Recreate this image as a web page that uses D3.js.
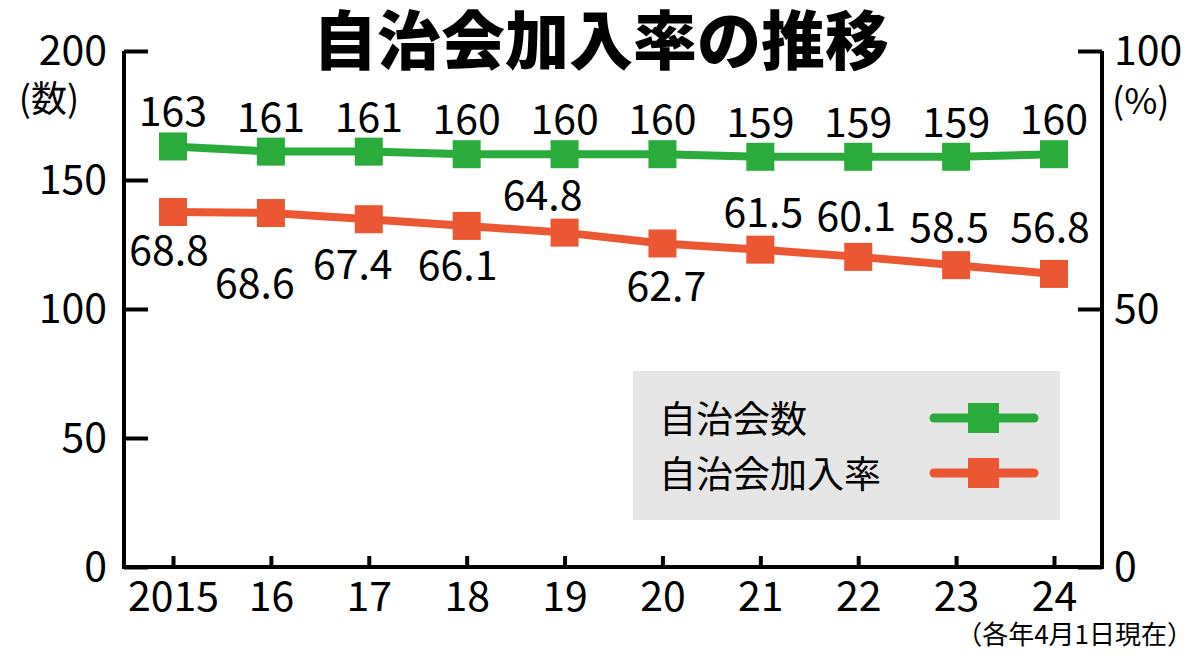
<!DOCTYPE html>
<html>
<head>
<meta charset="utf-8">
<script src="https://cdn.jsdelivr.net/npm/d3@7"></script>
<style>
body { margin:0; background:#fff; }
svg text { font-family:"Noto Sans CJK JP", "Noto Sans", sans-serif; fill:#000; }
.axis path, .axis line { stroke:#000; stroke-width:4; }
</style>
</head>
<body>
<div id="chart"></div>
<script>
// data
var years = ["2015","16","17","18","19","20","21","22","23","24"];
var counts = [163,161,161,160,160,160,159,159,159,160];
var rates = [68.8,68.6,67.4,66.1,64.8,62.7,61.5,60.1,58.5,56.8];
var leftTicks = [0,50,100,150,200];
var rightTicks = [0,50,100];
// label placement for rate values (layout only)
var rateLabelDy = [53,85,60,54,-23,58,-23,-26,-23,-32];
var rateLabelDx = [-4,-16,-16,-9,-22,4,3,-2,-7,-4];

var W = 1200, H = 653;
var margin = {t:51,l:124,b:86,r:98};

var svg = d3.select("#chart").append("svg")
    .attr("width",W).attr("height",H);

var x = d3.scalePoint().domain(years).range([173,1054]);
var yL = d3.scaleLinear().domain([0,200]).range([H-margin.b, margin.t]);
var yR = d3.scaleLinear().domain([0,100]).range([H-margin.b, margin.t]);

var green = "#2aab3b", orange = "#eb5732";

// title
svg.append("text")
    .attr("x",601).attr("y",64)
    .attr("text-anchor","middle")
    .style("font-size","64px").style("font-weight","900")
    .text("自治会加入率の推移");

// legend box
var lg = svg.append("g");
lg.append("rect").attr("x",633).attr("y",371).attr("width",427).attr("height",149).attr("fill","#e6e6e6");
var legendItems = [{name:"自治会数",color:green,y:418},{name:"自治会加入率",color:orange,y:473}];
legendItems.forEach(function(d){
    lg.append("text").attr("x",659).attr("y",d.y+15)
        .style("font-size","37px").text(d.name);
    lg.append("line").attr("x1",934).attr("x2",1034).attr("y1",d.y).attr("y2",d.y)
        .attr("stroke",d.color).attr("stroke-width",9).attr("stroke-linecap","round");
    lg.append("rect").attr("x",968).attr("y",d.y-15).attr("width",31).attr("height",30)
        .attr("fill",d.color);
});

// axes
var gl = svg.append("g").attr("class","axis")
    .attr("transform","translate("+margin.l+",0)")
    .call(d3.axisLeft(yL).tickValues(leftTicks).tickSizeInner(-24).tickSizeOuter(0).tickPadding(17));
var gr = svg.append("g").attr("class","axis")
    .attr("transform","translate("+(W-margin.r)+",0)")
    .call(d3.axisRight(yR).tickValues(rightTicks).tickSizeInner(-24).tickSizeOuter(0).tickPadding(12));
var gb = svg.append("g").attr("class","axis")
    .attr("transform","translate(0,"+(H-margin.b)+")")
    .call(d3.axisBottom(x).tickSizeInner(-11).tickSizeOuter(0).tickPadding(14));
gb.select(".domain").attr("d","M"+(margin.l-2)+",0H"+(W-margin.r+2));
gl.select(".domain").attr("d","M0,"+margin.t+"V"+(H-margin.b));
gr.select(".domain").attr("d","M0,"+margin.t+"V"+(H-margin.b));
svg.selectAll(".axis text").style("font-size","41px").attr("fill","#000");
gb.selectAll("text").attr("dy","0.73em");
svg.selectAll(".axis .tick line").attr("stroke-width",4);

// unit labels
svg.append("text").attr("x",49).attr("y",112).attr("text-anchor","middle")
    .style("font-size","36px").text("(数)");
svg.append("text").attr("x",1112).attr("y",114)
    .style("font-size","36px").text("(%)");
svg.append("text").attr("x",1193).attr("y",644).attr("text-anchor","end")
    .style("font-size","26px").text("（各年4月1日現在）");

// lines
var countData = years.map(function(y,i){ return {year:y, v:counts[i]}; });
var rateData = years.map(function(y,i){ return {year:y, v:rates[i], i:i}; });

var lineL = d3.line().x(function(d){return x(d.year);}).y(function(d){return yL(d.v);});
var lineR = d3.line().x(function(d){return x(d.year);}).y(function(d){return yR(d.v);});

svg.append("path").attr("d",lineL(countData)).attr("fill","none")
    .attr("stroke",green).attr("stroke-width",8);
svg.append("path").attr("d",lineR(rateData)).attr("fill","none")
    .attr("stroke",orange).attr("stroke-width",8);

var sq = 28;
svg.selectAll(".cdot").data(countData).enter().append("rect")
    .attr("class","cdot")
    .attr("x",function(d){return x(d.year)-sq/2;})
    .attr("y",function(d){return yL(d.v)-sq/2;})
    .attr("width",sq).attr("height",sq).attr("fill",green);
svg.selectAll(".rdot").data(rateData).enter().append("rect")
    .attr("class","rdot")
    .attr("x",function(d){return x(d.year)-sq/2;})
    .attr("y",function(d){return yR(d.v)-sq/2;})
    .attr("width",sq).attr("height",sq).attr("fill",orange);

// value labels
svg.selectAll(".clab").data(countData).enter().append("text")
    .attr("class","clab")
    .attr("x",function(d){return x(d.year);})
    .attr("y",function(d){return yL(d.v)-20;})
    .attr("text-anchor","middle")
    .style("font-size","41px")
    .text(function(d){return d.v;});
svg.selectAll(".rlab").data(rateData).enter().append("text")
    .attr("class","rlab")
    .attr("x",function(d){return x(d.year)+rateLabelDx[d.i];})
    .attr("y",function(d){return yR(d.v)+rateLabelDy[d.i];})
    .attr("text-anchor","middle")
    .style("font-size","41px")
    .text(function(d){return d3.format(".1f")(d.v);});
</script>
</body>
</html>
